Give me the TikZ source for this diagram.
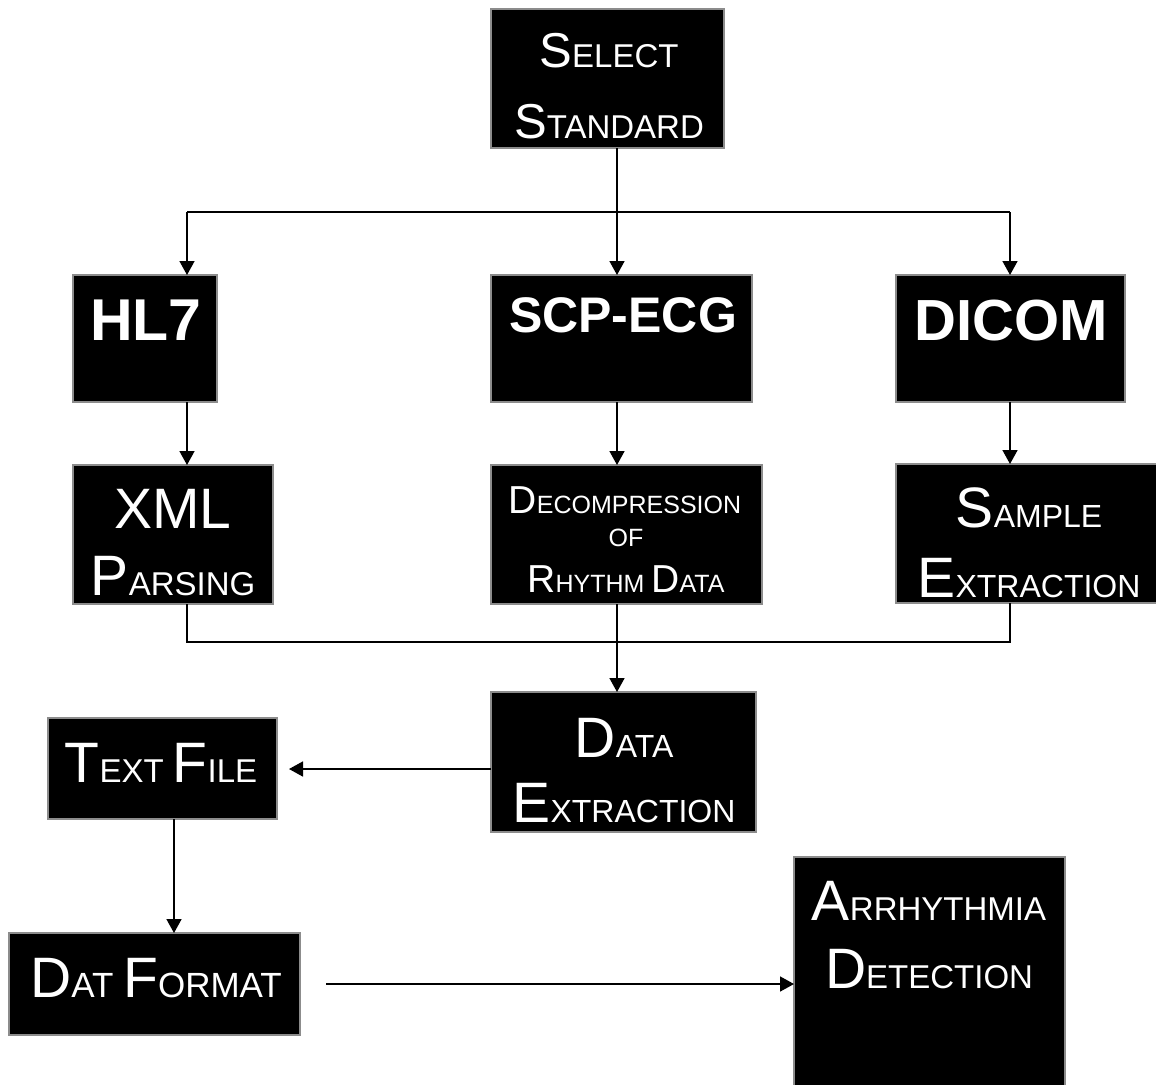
\documentclass[tikz,border=0pt]{standalone}
\usepackage{fontspec}
\setmainfont{Liberation Sans}
\usetikzlibrary{arrows.meta}

% small-caps lettering: big initial capitals, smaller remaining capitals
\newcommand\setsc[2]{\def\bigsz{#1}\fontsize{#2}{#2}\selectfont}
\newcommand\cl[1]{{\fontsize{\bigsz}{\bigsz}\selectfont #1}}

\begin{document}
\begin{tikzpicture}[x=1pt,y=-1pt,
  blk/.style={fill=black,draw=black!45,line width=1.5pt,inner sep=0pt,outer sep=0pt},
  txt/.style={text=white,anchor=base,inner sep=0pt},
  link/.style={line width=1.6pt,draw=black},
  arr/.style={link,-{Triangle[length=14pt,width=15pt]}}]
\useasboundingbox (0,0) rectangle (1156,1084);

% boxes
\newcommand\boxat[5]{\node[blk,minimum width={#4-#2},minimum height={#5-#3}] (#1) at ({(#2+#4)/2},{(#3+#5)/2}) {};}
\boxat{sel}{491}{9}{724}{148}
\boxat{hl}{73}{275}{217}{402}
\boxat{scp}{491}{275}{752}{402}
\boxat{dic}{896}{275}{1125}{402}
\boxat{xml}{73}{465}{273}{604}
\boxat{dec}{491}{465}{762}{604}
\boxat{smp}{896}{464}{1158}{603}
\boxat{dex}{491}{692}{756}{832}
\boxat{tf}{48}{718}{277}{819}
\boxat{dat}{9}{933}{300}{1035}
\boxat{arr}{794}{857}{1065}{1090}

% labels
\node[txt,font={\setsc{49}{33}}] (sel1) at (609,67) {\cl{S}ELECT};
\node[txt,font={\setsc{49}{33}}] (sel2) at (609,138) {\cl{S}TANDARD};
\node[txt,font={\fontsize{59}{59}\selectfont\bfseries}] (hlt) at (146,340) {HL7};
\node[txt,font={\fontsize{50}{50}\selectfont\bfseries}] (scpt) at (623,332) {SCP-ECG};
\node[txt,font={\fontsize{58}{58}\selectfont\bfseries}] (dict) at (1011,340) {DICOM};
\node[txt,font={\setsc{57}{33}}] (xml1) at (173,528) {\cl{XML}};
\node[txt,font={\setsc{57}{33}}] (xml2) at (173,595) {\cl{P}ARSING};
\node[txt,font={\setsc{39}{25}}] (dec1) at (625,513) {\cl{D}ECOMPRESSION};
\node[txt,font={\setsc{39}{25}}] (dec2) at (626,546) {OF};
\node[txt,font={\setsc{39}{25}}] (dec3) at (626,592) {\cl{R}HYTHM \cl{D}ATA};
\node[txt,font={\setsc{57}{32}}] (smp1) at (1029,527) {\cl{S}AMPLE};
\node[txt,font={\setsc{57}{32}}] (smp2) at (1029,597) {\cl{E}XTRACTION};
\node[txt,font={\setsc{57}{32}}] (dex1) at (624,757) {\cl{D}ATA};
\node[txt,font={\setsc{57}{32}}] (dex2) at (624,822) {\cl{E}XTRACTION};
\node[txt,font={\setsc{57}{33}}] (tft) at (161,782) {\cl{T}EXT \cl{F}ILE};
\node[txt,font={\setsc{57}{35}}] (datt) at (156,997) {\cl{D}AT \cl{F}ORMAT};
\node[txt,font={\setsc{57}{33}}] (arr1) at (929,920) {\cl{A}RRHYTHMIA};
\node[txt,font={\setsc{57}{33}}] (arr2) at (929,988) {\cl{D}ETECTION};

% junction points of the connector buses
\coordinate (tl) at (187,212);
\coordinate (tm) at (617,212);
\coordinate (tr) at (1010,212);
\coordinate (bl) at (187,642);
\coordinate (bm) at (617,642);
\coordinate (br) at (1010,642);
\coordinate (tfin) at (289,769);
\coordinate (tfdown) at (174,819);
\coordinate (datout) at (326,984);

% fan-out from the standard selection
\draw[link] (sel.south -| tm) -- (tm);
\draw[link] (tl) -- (tr);
\draw[arr] (tl) -- (hl.north -| tl);
\draw[arr] (tm) -- (scp.north -| tm);
\draw[arr] (tr) -- (dic.north -| tr);

% per-standard processing
\draw[arr] (hl.south -| tl) -- (xml.north -| tl);
\draw[arr] (scp.south -| tm) -- (dec.north -| tm);
\draw[arr] (dic.south -| tr) -- (smp.north -| tr);

% merge into data extraction
\draw[link] (xml.south -| bl) -- (bl) -- (br) -- (smp.south -| br);
\draw[arr] (dec.south -| bm) -- (dex.north -| bm);

% output chain
\draw[arr] (dex.west |- tfin) -- (tfin);
\draw[arr] (tf.south -| tfdown) -- (dat.north -| tfdown);
\draw[arr] (datout) -- (arr.west |- datout);
\end{tikzpicture}
\end{document}
